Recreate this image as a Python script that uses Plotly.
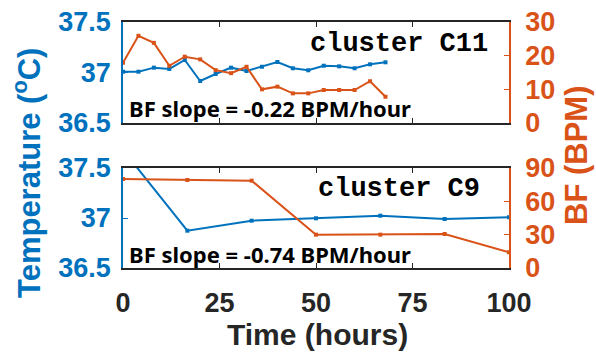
import plotly.graph_objects as go

BLUE = "#0072BD"
ORANGE = "#D95319"

# Top panel (cluster C11)
t_c11 = [0, 4, 8, 12, 16, 20, 24, 28, 32, 36, 40, 44, 48, 52, 56, 60, 64, 68]
temp_c11 = [37.008, 37.008, 37.048, 37.035, 37.124, 36.916, 36.985, 37.048, 37.015,
            37.057, 37.104, 37.042, 37.022, 37.067, 37.061, 37.042, 37.081, 37.101]
bf_c11 = [17.9, 25.9, 23.8, 17.0, 19.7, 18.9, 15.7, 14.8, 16.7,
          10.0, 10.8, 8.8, 8.8, 9.8, 9.8, 9.8, 12.4, 7.8]

# Bottom panel (cluster C9)
t_c9 = [0, 16.67, 33.33, 50, 66.67, 83.33, 100]
temp_c9 = [37.68, 36.873, 36.973, 36.997, 37.023, 36.99, 37.007]
bf_c9 = [80.1, 79.2, 78.6, 30.0, 30.0, 30.6, 14.1]

x_ticks = [0, 25, 50, 75, 100]
temp_ticks = [36.5, 37, 37.5]
temp_ticktext = ["36.5", "37", "37.5"]
bf_ticks_c11 = [0, 10, 20, 30]
bf_ticks_c9 = [0, 30, 60, 90]

W, H = 596, 354
x0, x1 = 123 / W, 509 / W
top_dom = [1 - 123 / H, 1 - 22 / H]
bot_dom = [1 - 268 / H, 1 - 168 / H]

fig = go.Figure()

def add_pair(t, temp, bf, xa, ya, ya2):
    fig.add_trace(go.Scatter(x=t, y=temp, mode="lines+markers", xaxis=xa, yaxis=ya,
                             line=dict(color=BLUE, width=2),
                             marker=dict(symbol="square", size=4, color=BLUE),
                             showlegend=False, cliponaxis=True))
    fig.add_trace(go.Scatter(x=t, y=bf, mode="lines+markers", xaxis=xa, yaxis=ya2,
                             line=dict(color=ORANGE, width=2),
                             marker=dict(symbol="square", size=4, color=ORANGE),
                             showlegend=False, cliponaxis=True))

add_pair(t_c11, temp_c11, bf_c11, "x2", "y3", "y4")
add_pair(t_c9, temp_c9, bf_c9, "x", "y", "y2")

def tf(color):
    return dict(family="Liberation Sans", size=27, color=color, weight="bold")

xcommon = dict(range=[0, 100], tickvals=x_ticks, ticks="inside", ticklen=5,
               showline=True, linecolor="#262626", linewidth=1.5, mirror="ticks",
               tickcolor="#262626", showgrid=False, zeroline=False, automargin=False)

def ycommon(color, rng, tickvals, side, standoff):
    d = dict(range=rng, tickvals=tickvals, ticks="inside", ticklen=5, tickcolor=color,
             showline=True, linecolor=color, linewidth=1.5, showgrid=False,
             zeroline=False, tickfont=tf(color), ticklabelstandoff=standoff,
             automargin=False, side=side)
    return d

fig.update_layout(
    width=W, height=H, margin=dict(l=0, r=0, t=0, b=0, autoexpand=False),
    paper_bgcolor="white", plot_bgcolor="white",
    xaxis=dict(domain=[x0, x1], anchor="y", showticklabels=True,
               tickfont=tf("#262626"), ticklabelstandoff=10, **xcommon),
    xaxis2=dict(domain=[x0, x1], anchor="y3", showticklabels=False, **xcommon),
    yaxis=dict(domain=bot_dom, anchor="x", ticktext=temp_ticktext,
               **ycommon(BLUE, [36.5, 37.5], temp_ticks, "left", 5)),
    yaxis2=dict(domain=bot_dom, anchor="x", overlaying="y",
                **ycommon(ORANGE, [0, 90], bf_ticks_c9, "right", 9)),
    yaxis3=dict(domain=top_dom, anchor="x2", ticktext=temp_ticktext,
                **ycommon(BLUE, [36.5, 37.5], temp_ticks, "left", 5)),
    yaxis4=dict(domain=top_dom, anchor="x2", overlaying="y3",
                **ycommon(ORANGE, [0, 30], bf_ticks_c11, "right", 9)),
)

def ann(text, x, y, size, color, family="Liberation Sans", xanchor="center", angle=0, bold=True):
    fig.add_annotation(text=f"<b>{text}</b>" if bold else text, x=x / W, y=1 - y / H,
                       xref="paper", yref="paper", showarrow=False, xanchor=xanchor,
                       yanchor="middle", textangle=angle,
                       font=dict(family=family, size=size, color=color))

ann("cluster C11", 490, 44, 27, "black", family="Liberation Mono", xanchor="right")
ann("cluster C9", 482, 189, 27, "black", family="Liberation Mono", xanchor="right")
ann("BF slope = -0.22 BPM/hour", 127, 108, 22, "black", family="Noto Sans", xanchor="left")
ann("BF slope = -0.74 BPM/hour", 127, 254, 22, "black", family="Noto Sans", xanchor="left")
ann("Time (hours)", 318, 334, 30, "#262626")
ann("Temperature (<sup>o</sup>C)", 27, 173, 31, BLUE, angle=-90)
ann("BF (BPM)", 577, 156, 31, ORANGE, angle=-90)

fig.write_html("out.html")
